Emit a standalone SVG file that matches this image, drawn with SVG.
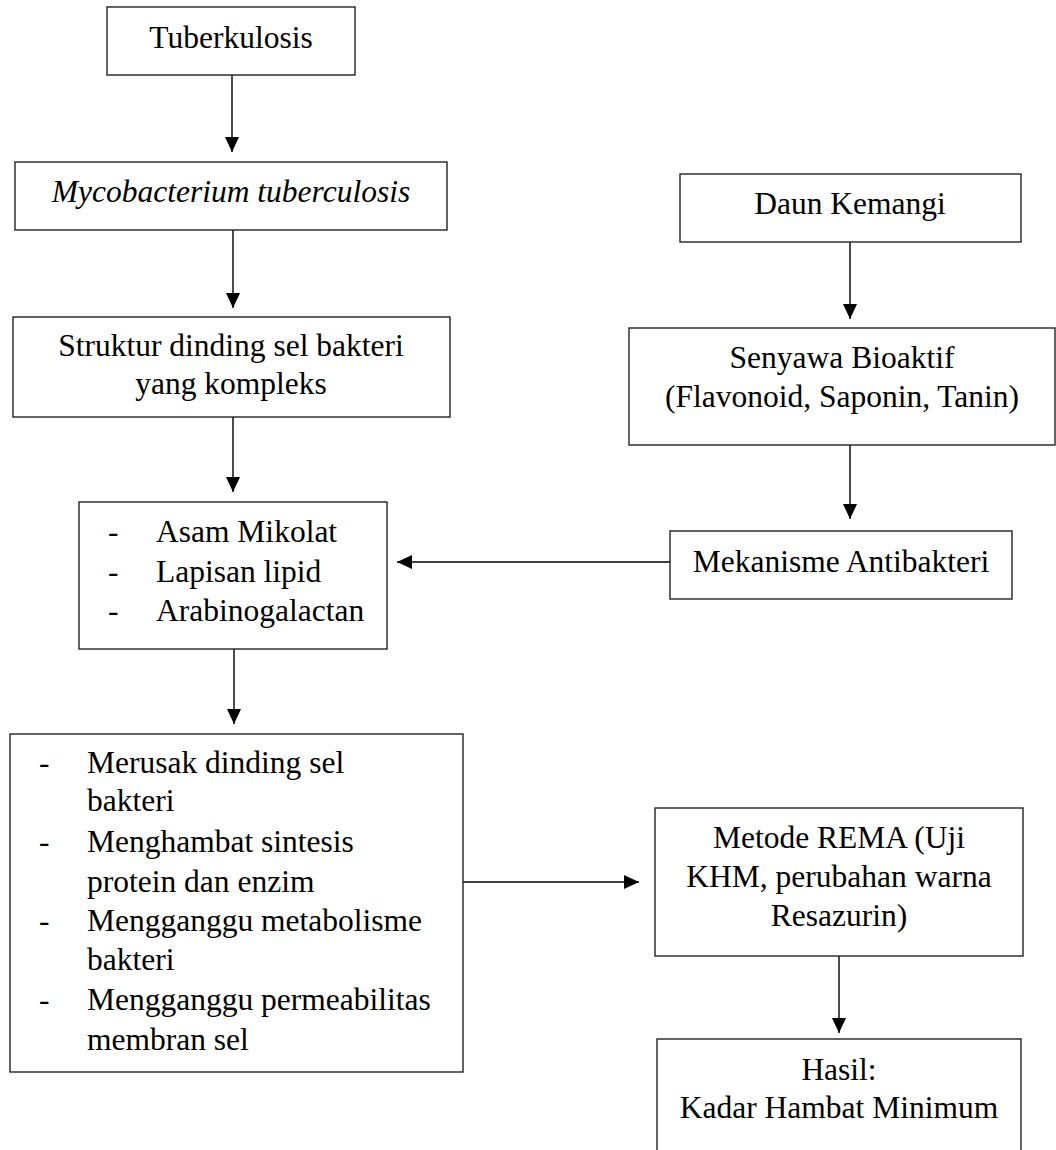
<svg xmlns="http://www.w3.org/2000/svg" width="1056" height="1150" viewBox="0 0 1056 1150">
  <style>
    .box { fill: #fff; stroke: #222; stroke-width: 1.4; }
    .t { font-family: "Liberation Serif", "Times New Roman", serif; font-size: 31.5px; fill: #000; }
    .c { text-anchor: middle; }
    .conn { stroke: #000; stroke-width: 1.4; fill: none; marker-end: url(#ah); }
  </style>
  <defs>
    <marker id="ah" markerUnits="userSpaceOnUse" markerWidth="16" markerHeight="14" refX="15" refY="7" orient="auto">
      <path d="M0,0 L15,7 L0,14 Z" fill="#000"/>
    </marker>
  </defs>
  <rect width="1056" height="1150" fill="#fff"/>

  <g id="connectors">
    <line class="conn" x1="232" y1="75" x2="232" y2="152"/>
    <line class="conn" x1="233" y1="230" x2="233" y2="308"/>
    <line class="conn" x1="233" y1="417" x2="233" y2="492"/>
    <line class="conn" x1="234" y1="649" x2="234" y2="724"/>
    <line class="conn" x1="850" y1="242" x2="850" y2="319"/>
    <line class="conn" x1="850" y1="445" x2="850" y2="519"/>
    <line class="conn" x1="670" y1="562" x2="397" y2="562"/>
    <line class="conn" x1="463" y1="882" x2="639" y2="882"/>
    <line class="conn" x1="839" y1="956" x2="839" y2="1033"/>
  </g>

  <g id="tuberkulosis">
    <rect class="box" x="107" y="7" width="248" height="68"/>
    <text class="t c" x="231" y="48">Tuberkulosis</text>
  </g>

  <g id="mycobacterium">
    <rect class="box" x="15" y="162" width="432" height="68"/>
    <text class="t c" x="231" y="202" font-style="italic">Mycobacterium tuberculosis</text>
  </g>

  <g id="struktur">
    <rect class="box" x="13" y="317" width="437" height="100"/>
    <text class="t c" x="231" y="356">Struktur dinding sel bakteri</text>
    <text class="t c" x="231" y="394">yang kompleks</text>
  </g>

  <g id="komponen">
    <rect class="box" x="79" y="502" width="308" height="147"/>
    <text class="t" x="108" y="542">-</text>
    <text class="t" x="156" y="542">Asam Mikolat</text>
    <text class="t" x="108" y="582">-</text>
    <text class="t" x="156" y="582">Lapisan lipid</text>
    <text class="t" x="108" y="621">-</text>
    <text class="t" x="156" y="621">Arabinogalactan</text>
  </g>

  <g id="mekanisme-detail">
    <rect class="box" x="10" y="734" width="453" height="338"/>
    <text class="t" x="39" y="773">-</text>
    <text class="t" x="87" y="773">Merusak dinding sel</text>
    <text class="t" x="87" y="811">bakteri</text>
    <text class="t" x="39" y="852">-</text>
    <text class="t" x="87" y="852">Menghambat sintesis</text>
    <text class="t" x="87" y="892">protein dan enzim</text>
    <text class="t" x="39" y="931">-</text>
    <text class="t" x="87" y="931">Mengganggu metabolisme</text>
    <text class="t" x="87" y="970">bakteri</text>
    <text class="t" x="39" y="1010">-</text>
    <text class="t" x="87" y="1010">Mengganggu permeabilitas</text>
    <text class="t" x="87" y="1050">membran sel</text>
  </g>

  <g id="daun-kemangi">
    <rect class="box" x="680" y="174" width="341" height="68"/>
    <text class="t c" x="850" y="214">Daun Kemangi</text>
  </g>

  <g id="senyawa">
    <rect class="box" x="629" y="328" width="426" height="117"/>
    <text class="t c" x="842" y="368">Senyawa Bioaktif</text>
    <text class="t c" x="842" y="407">(Flavonoid, Saponin, Tanin)</text>
  </g>

  <g id="mekanisme">
    <rect class="box" x="670" y="531" width="342" height="68"/>
    <text class="t c" x="841" y="572">Mekanisme Antibakteri</text>
  </g>

  <g id="rema">
    <rect class="box" x="655" y="808" width="368" height="148"/>
    <text class="t c" x="839" y="848">Metode REMA (Uji</text>
    <text class="t c" x="839" y="887">KHM, perubahan warna</text>
    <text class="t c" x="839" y="926">Resazurin)</text>
  </g>

  <g id="hasil">
    <rect class="box" x="657" y="1039" width="364" height="160"/>
    <text class="t c" x="839" y="1080">Hasil:</text>
    <text class="t c" x="839" y="1118">Kadar Hambat Minimum</text>
  </g>
</svg>
